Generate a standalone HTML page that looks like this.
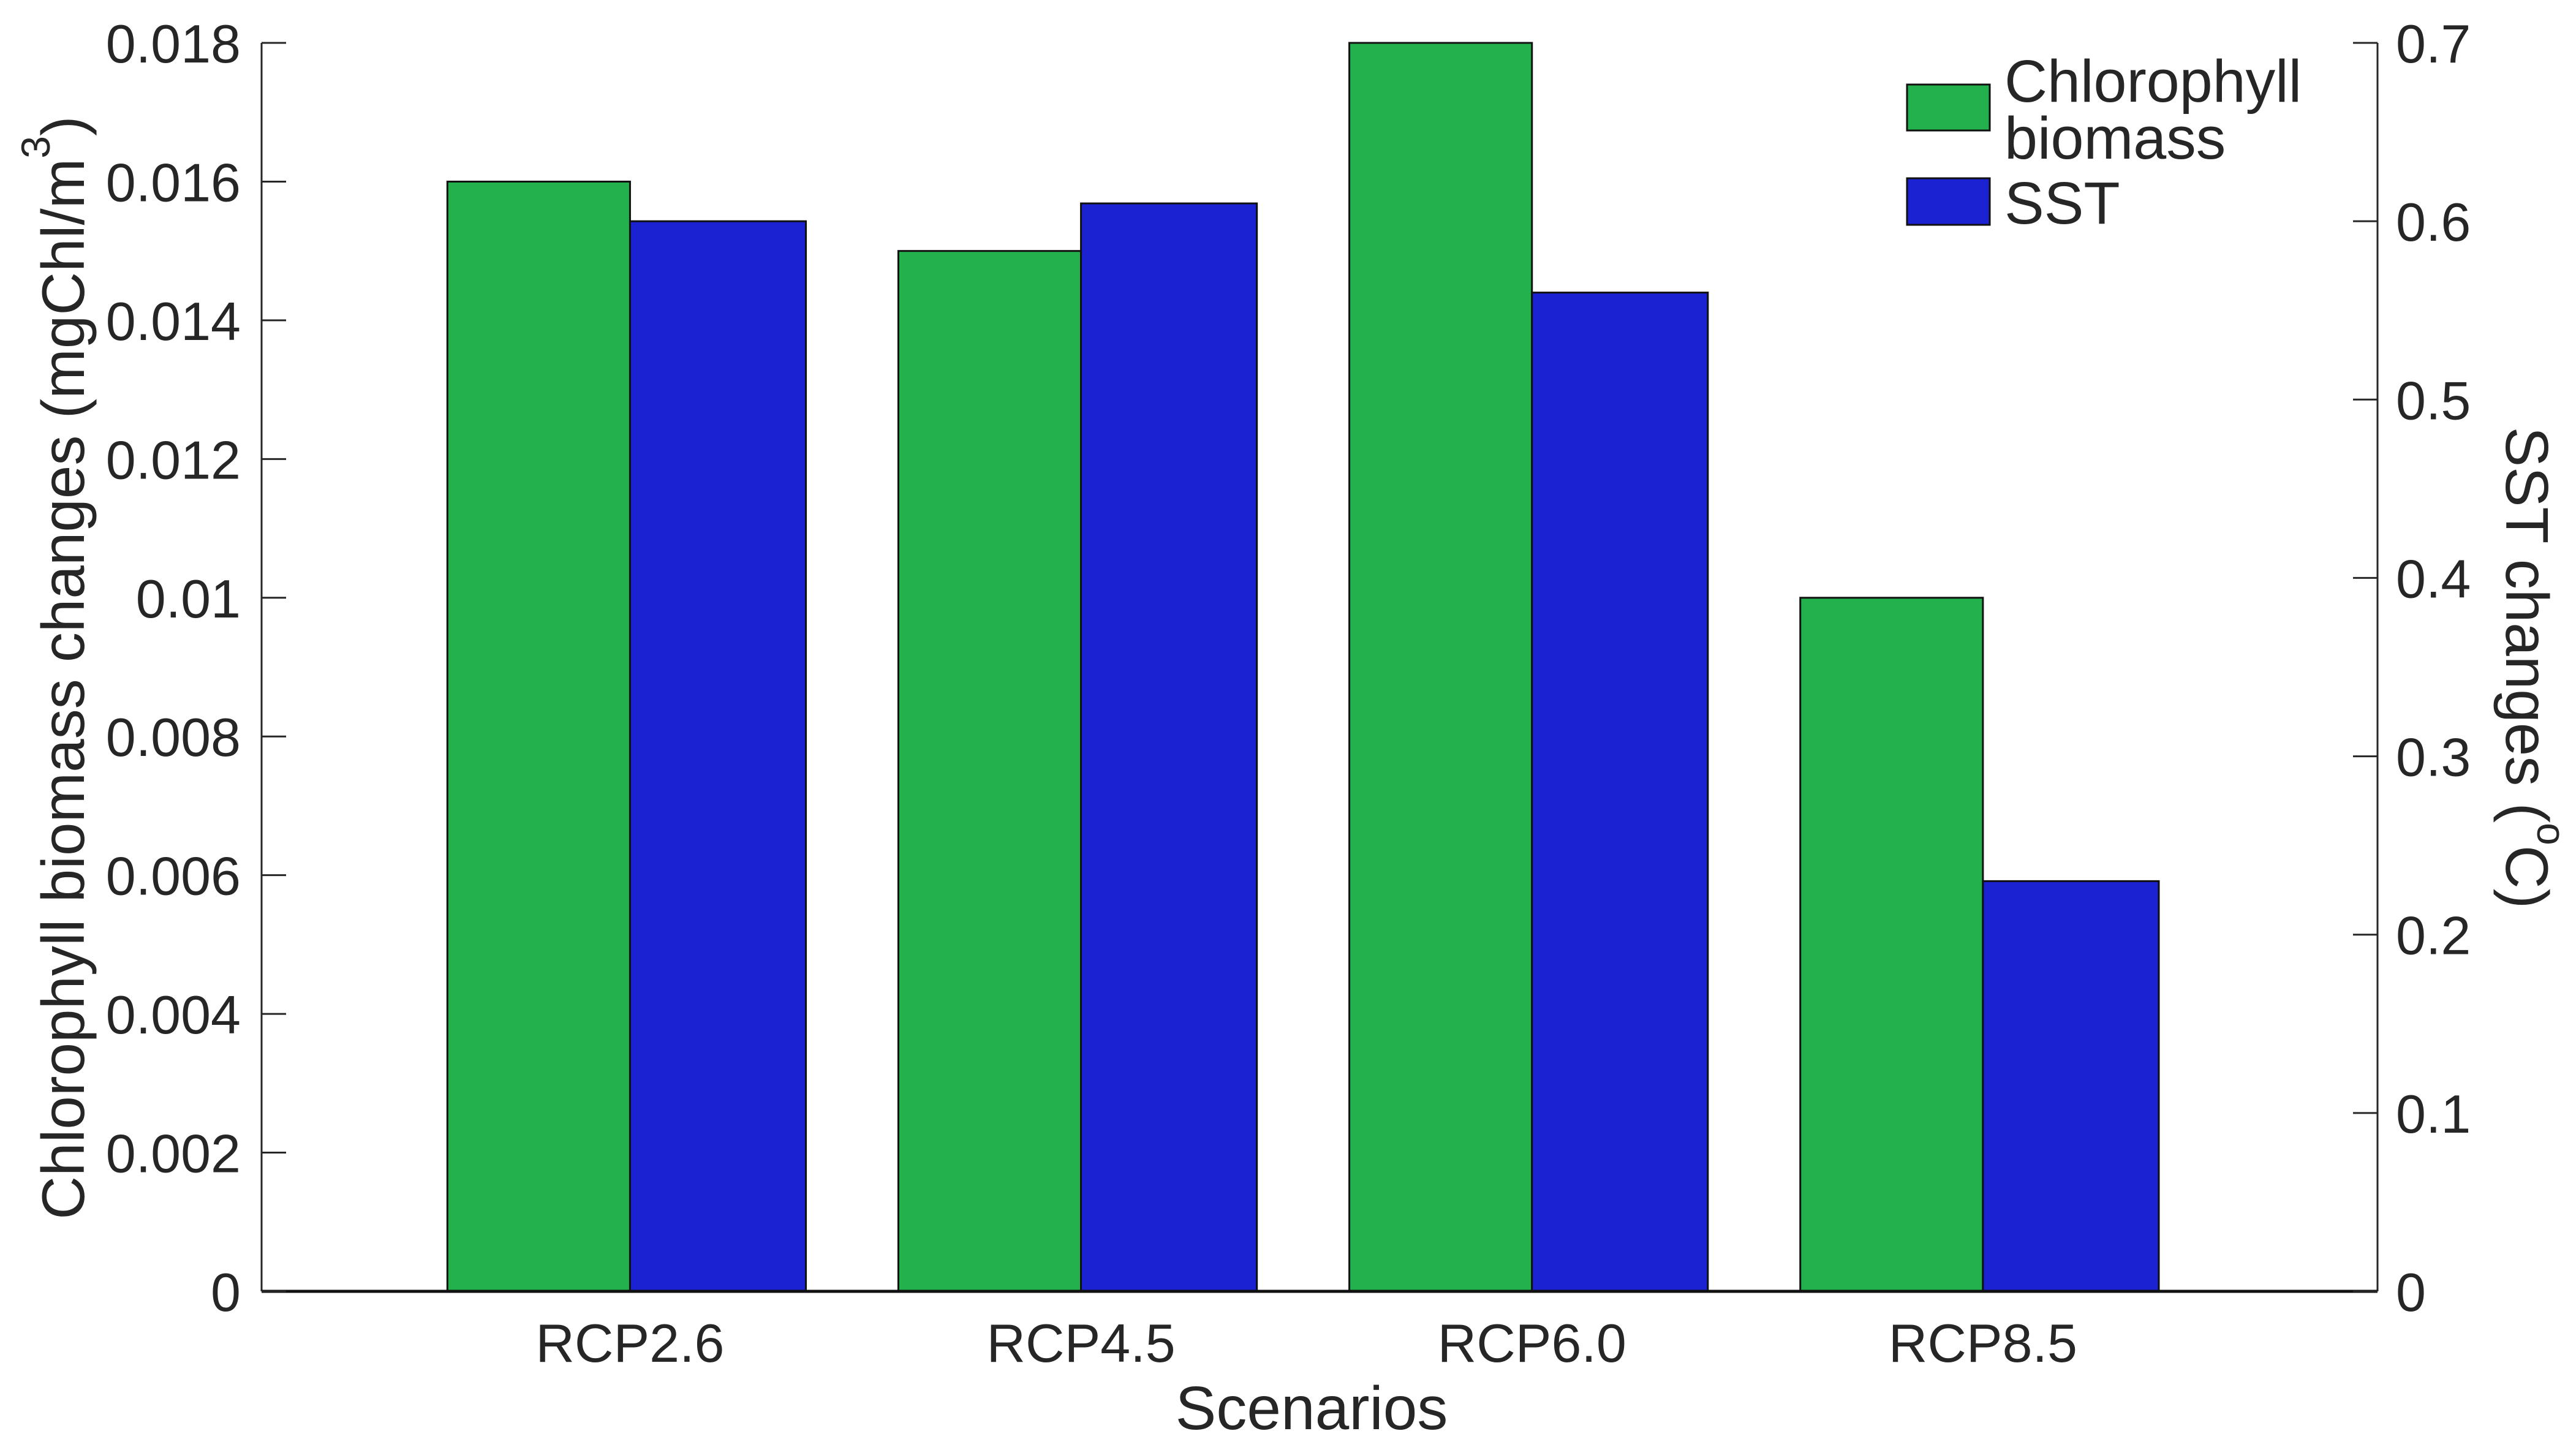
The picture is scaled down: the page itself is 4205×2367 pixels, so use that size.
<!DOCTYPE html>
<html><head><meta charset="utf-8"><style>
html,body{margin:0;padding:0;background:#fff;}
svg{display:block;font-family:"Liberation Sans",Arial,sans-serif;}
</style></head><body>
<svg id="chart" width="4205" height="2367" viewBox="0 0 4205 2367" xmlns="http://www.w3.org/2000/svg">
<g id="bars"></g>
<g id="axes"></g>
<g id="legend">
  <rect x="3113" y="138" width="135" height="75" fill="#22b14c" stroke="#111" stroke-width="3"/>
  <text x="3272" y="166" font-size="97" fill="#262626">Chlorophyll</text>
  <text x="3272" y="259" font-size="97" fill="#262626">biomass</text>
  <rect x="3113" y="291" width="135" height="76" fill="#1a22d2" stroke="#111" stroke-width="3"/>
  <text x="3272" y="365" font-size="97" fill="#262626">SST</text>
</g>
<text transform="translate(103,1090) rotate(-90)" text-anchor="middle" dominant-baseline="central" font-size="98" fill="#262626">Chlorophyll biomass changes (mgChl/m<tspan font-size="66" dy="-45">3</tspan><tspan dy="45">)</tspan></text>
<text transform="translate(4125,1090) rotate(90)" text-anchor="middle" dominant-baseline="central" font-size="98" fill="#262626">SST changes (<tspan font-size="66" dy="-40">o</tspan><tspan dy="40">C)</tspan></text>
<text x="2141" y="2333" text-anchor="middle" font-size="100" fill="#262626">Scenarios</text>
</svg>
<script>
const categories = ["RCP2.6","RCP4.5","RCP6.0","RCP8.5"];
const chlValues = [0.016, 0.015, 0.018, 0.010];
const sstValues = [0.60, 0.61, 0.56, 0.23];
const leftTicks = [0,0.002,0.004,0.006,0.008,0.01,0.012,0.014,0.016,0.018];
const leftTickLabels = ["0","0.002","0.004","0.006","0.008","0.01","0.012","0.014","0.016","0.018"];
const rightTicks = [0,0.1,0.2,0.3,0.4,0.5,0.6,0.7];
const rightTickLabels = ["0","0.1","0.2","0.3","0.4","0.5","0.6","0.7"];

const NS = "http://www.w3.org/2000/svg";
const L = 427, R = 3881, T = 70, B = 2108;
const xDom = [0.183, 4.875];
const xS = c => L + (c - xDom[0]) / (xDom[1] - xDom[0]) * (R - L);
const yL = v => B - v / 0.018 * (B - T);
const yR = v => B - v / 0.7 * (B - T);
const pitch = xS(2) - xS(1);
const gW = pitch * 0.405, bW = pitch * 0.39;

function mk(tag, attrs, parent) {
  const e = document.createElementNS(NS, tag);
  for (const k in attrs) e.setAttribute(k, attrs[k]);
  parent.appendChild(e);
  return e;
}
const bars = document.getElementById('bars');
const axes = document.getElementById('axes');

categories.forEach((c, i) => {
  const cx = xS(i + 1);
  const g = mk('rect', {x: cx - gW, y: yL(chlValues[i]), width: gW, height: B - yL(chlValues[i]), fill: '#22b14c', stroke: '#111', 'stroke-width': 3}, bars);
  
  
  const b = mk('rect', {x: cx, y: yR(sstValues[i]), width: bW, height: B - yR(sstValues[i]), fill: '#1a22d2', stroke: '#111', 'stroke-width': 3}, bars);
  
  
  const t = mk('text', {x: cx, y: 2223, 'text-anchor': 'middle', 'font-size': 88, fill: '#262626'}, axes);
  t.textContent = c;
  
  
});

const la = mk('line', {x1: L, y1: T, x2: L, y2: B, stroke: '#262626', 'stroke-width': 3}, axes);


const ra = mk('line', {x1: R, y1: T, x2: R, y2: B, stroke: '#262626', 'stroke-width': 3}, axes);


const xa = mk('line', {x1: L, y1: B, x2: R, y2: B, stroke: '#111', 'stroke-width': 5}, axes);



leftTicks.forEach((v, i) => {
  const y = yL(v);
  const tk = mk('line', {x1: L, y1: y, x2: L + 40, y2: y, stroke: '#262626', 'stroke-width': 3}, axes);
  
  
  const t = mk('text', {x: 393, y: y + 32, 'text-anchor': 'end', 'font-size': 88, fill: '#262626'}, axes);
  t.textContent = leftTickLabels[i];
  
  
});
rightTicks.forEach((v, i) => {
  const y = yR(v);
  const tk = mk('line', {x1: R - 40, y1: y, x2: R, y2: y, stroke: '#262626', 'stroke-width': 3}, axes);
  
  
  const t = mk('text', {x: 3911, y: y + 32, 'font-size': 88, fill: '#262626'}, axes);
  t.textContent = rightTickLabels[i];
  
  
});
</script>
</body></html>
